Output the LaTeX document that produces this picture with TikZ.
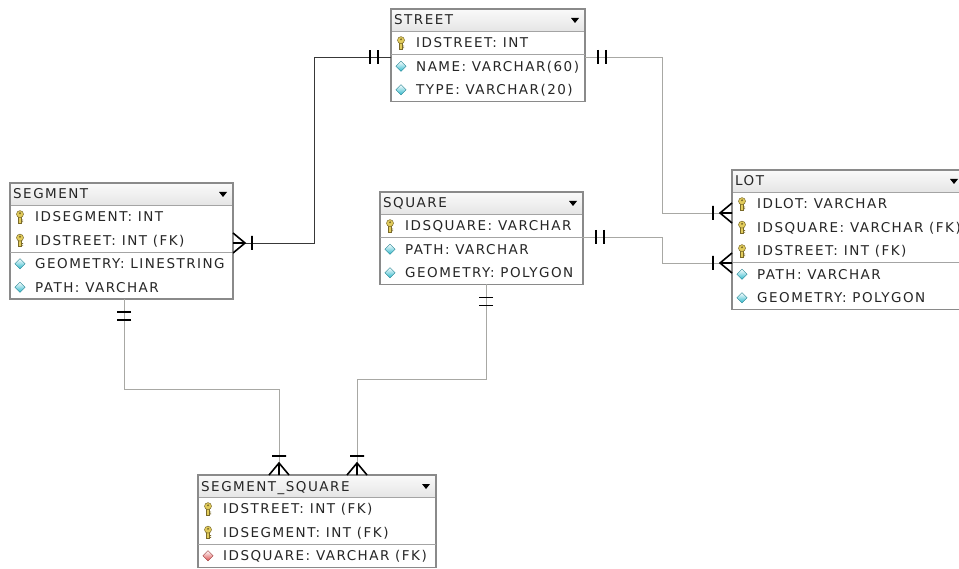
\documentclass[tikz,border=0pt]{standalone}
\usepackage{fontspec}
\newfontfamily\erfont[LetterSpace=11]{DejaVu Sans}
\usetikzlibrary{calc}
\definecolor{FrameClr}{HTML}{8A8A8A}
\definecolor{SepClr}{HTML}{A4A4A4}
\definecolor{LinkClr}{HTML}{A8A8A4}
\definecolor{DarkLinkClr}{HTML}{383838}
\definecolor{KeyFill}{HTML}{E2CC5C}
\definecolor{KeyDraw}{HTML}{7A6A2A}
\definecolor{AttrClr}{HTML}{2CB8CC}
\definecolor{FkClr}{HTML}{DC4C4C}

\tikzset{
  tbl/.style={fill=white,anchor=north west,inner sep=0pt,outer sep=0pt},
  tblframe/.style={draw=FrameClr,line width=1.8pt},
  tblhead/.style={top color=gray!4,bottom color=gray!20,anchor=north west,
    inner sep=0pt,outer sep=0pt,minimum height=22pt},
  fldtext/.style={anchor=base west,inner sep=0pt,text=black!85,
    font=\erfont\fontsize{13.5}{15}\selectfont},
  sepline/.style={draw=SepClr,line width=0.8pt},
  lnk/.style={draw=LinkClr,line width=0.9pt},
  lnkdark/.style={draw=DarkLinkClr,line width=0.9pt},
  markline/.style={draw=black,line width=1.6pt},
  twobar/.pic={\draw[markline] (13,-7) -- (13,7) (21,-7) -- (21,7);},
  crowbar/.pic={\draw[markline] (0,-10) -- (12,0) -- (0,10) (0,0) -- (12,0)
    (19,-7) -- (19,7);},
  keyic/.pic={
    \filldraw[fill=KeyFill,draw=KeyDraw,line width=0.5pt] (-1.5,-1) rectangle (1.5,6.2);
    \filldraw[fill=KeyFill,draw=KeyDraw,line width=0.5pt] (0,-2.6) circle (3.5);
    \fill[KeyDraw] (0,-3.4) circle (1.1);
    \fill[KeyDraw] (1.5,2.8) rectangle (3,3.6) (1.5,4.7) rectangle (3,5.5);},
  attric/.pic={\shadedraw[top color=white,bottom color=AttrClr,draw=AttrClr!70!black,
    line width=0.4pt] (0,-5.2) -- (5.2,0) -- (0,5.2) -- (-5.2,0) -- cycle;},
  fkic/.pic={\shadedraw[top color=white,bottom color=FkClr,draw=FkClr!70!black,
    line width=0.4pt] (0,-5.2) -- (5.2,0) -- (0,5.2) -- (-5.2,0) -- cycle;}
}

% table: name, x, y, width, height, title
\newcommand{\ErTable}[6]{%
  \node[tbl,minimum width=#4pt,minimum height=#5pt] (#1) at (#2,#3) {};
  \node[tblhead,minimum width=#4pt] (#1-h) at (#1.north west) {};
  \node[fldtext] (#1-t) at ($(#1.north west)+(3,16)$) {#6};
  \fill ($(#1.north east)+(-14,9)$) -- ++(8,0) -- ++(-4,5) -- cycle;
  \ErSep{#1}{0}
  \draw[tblframe] (#1.north west) rectangle (#1.south east);
}
% row: table, index, icon, text
\newcommand{\ErRow}[4]{%
  \pic at ($(#1.north west)+(10,{10.25+23.5*#2})$) {#3};
  \node[fldtext] (#1-r#2) at ($(#1.north west)+(25,{15.25+23.5*#2})$) {#4};
}
\newcommand{\ErSep}[2]{%
  \draw[sepline] ($(#1.north west)+(0,{22+23.5*#2})$) -- ($(#1.north east)+(0,{22+23.5*#2})$);
}

\begin{document}
\begin{tikzpicture}[x=1pt,y=-1pt]
\fill[white] (0,0) rectangle (959,569);
\useasboundingbox (0,0) rectangle (959,569);

\ErTable{street}{391}{9}{194}{92.5}{STREET}
\ErRow{street}{1}{keyic}{IDSTREET: INT}
\ErSep{street}{1}
\ErRow{street}{2}{attric}{NAME: VARCHAR(60)}
\ErRow{street}{3}{attric}{TYPE: VARCHAR(20)}

\ErTable{segment}{10}{183}{223}{116}{SEGMENT}
\ErRow{segment}{1}{keyic}{IDSEGMENT: INT}
\ErRow{segment}{2}{keyic}{IDSTREET: INT (FK)}
\ErSep{segment}{2}
\ErRow{segment}{3}{attric}{GEOMETRY: LINESTRING}
\ErRow{segment}{4}{attric}{PATH: VARCHAR}

\ErTable{square}{380}{192}{203}{92.5}{SQUARE}
\ErRow{square}{1}{keyic}{IDSQUARE: VARCHAR}
\ErSep{square}{1}
\ErRow{square}{2}{attric}{PATH: VARCHAR}
\ErRow{square}{3}{attric}{GEOMETRY: POLYGON}

\ErTable{lot}{732}{170}{232}{139.5}{LOT}
\ErRow{lot}{1}{keyic}{IDLOT: VARCHAR}
\ErRow{lot}{2}{keyic}{IDSQUARE: VARCHAR (FK)}
\ErRow{lot}{3}{keyic}{IDSTREET: INT (FK)}
\ErSep{lot}{3}
\ErRow{lot}{4}{attric}{PATH: VARCHAR}
\ErRow{lot}{5}{attric}{GEOMETRY: POLYGON}

\ErTable{segsq}{198}{475}{238}{92.5}{SEGMENT\_SQUARE}
\ErRow{segsq}{1}{keyic}{IDSTREET: INT (FK)}
\ErRow{segsq}{2}{keyic}{IDSEGMENT: INT (FK)}
\ErSep{segsq}{2}
\ErRow{segsq}{3}{fkic}{IDSQUARE: VARCHAR (FK)}

% connector ends
\coordinate (st-w) at ($(street.north west)+(0,48)$);
\coordinate (st-e) at ($(street.north east)+(0,48)$);
\coordinate (sg-e) at ($(segment.north east)+(0,60)$);
\coordinate (sg-s) at ($(segment.south west)+(114,0)$);
\coordinate (sq-e) at ($(square.north east)+(0,45)$);
\coordinate (sq-s) at ($(square.south west)+(106,0)$);
\coordinate (lt-w1) at ($(lot.north west)+(0,43)$);
\coordinate (lt-w2) at ($(lot.north west)+(0,93)$);
\coordinate (ss-n1) at ($(segsq.north west)+(81,0)$);
\coordinate (ss-n2) at ($(segsq.north west)+(159,0)$);

% relationships
\draw[lnkdark] (st-w) -- ++(-77,0) |- (sg-e);
\draw[lnk] (st-e) -- ++(77,0) |- (lt-w1);
\draw[lnk] (sq-e) -- ++(79,0) |- (lt-w2);
\draw[lnk] (sg-s) -- ++(0,90) -| (ss-n1);
\draw[lnk] (sq-s) -- ++(0,95) -| (ss-n2);

\pic[rotate=180] at (st-w) {twobar};
\pic at (st-e) {twobar};
\pic at (sg-e) {crowbar};
\pic at (sq-e) {twobar};
\pic[rotate=180] at (lt-w1) {crowbar};
\pic[rotate=180] at (lt-w2) {crowbar};
\pic[rotate=-90] at (sg-s) {twobar};
\pic[rotate=-90] at (sq-s) {twobar};
\pic[rotate=90] at (ss-n1) {crowbar};
\pic[rotate=90] at (ss-n2) {crowbar};

\end{tikzpicture}
\end{document}
